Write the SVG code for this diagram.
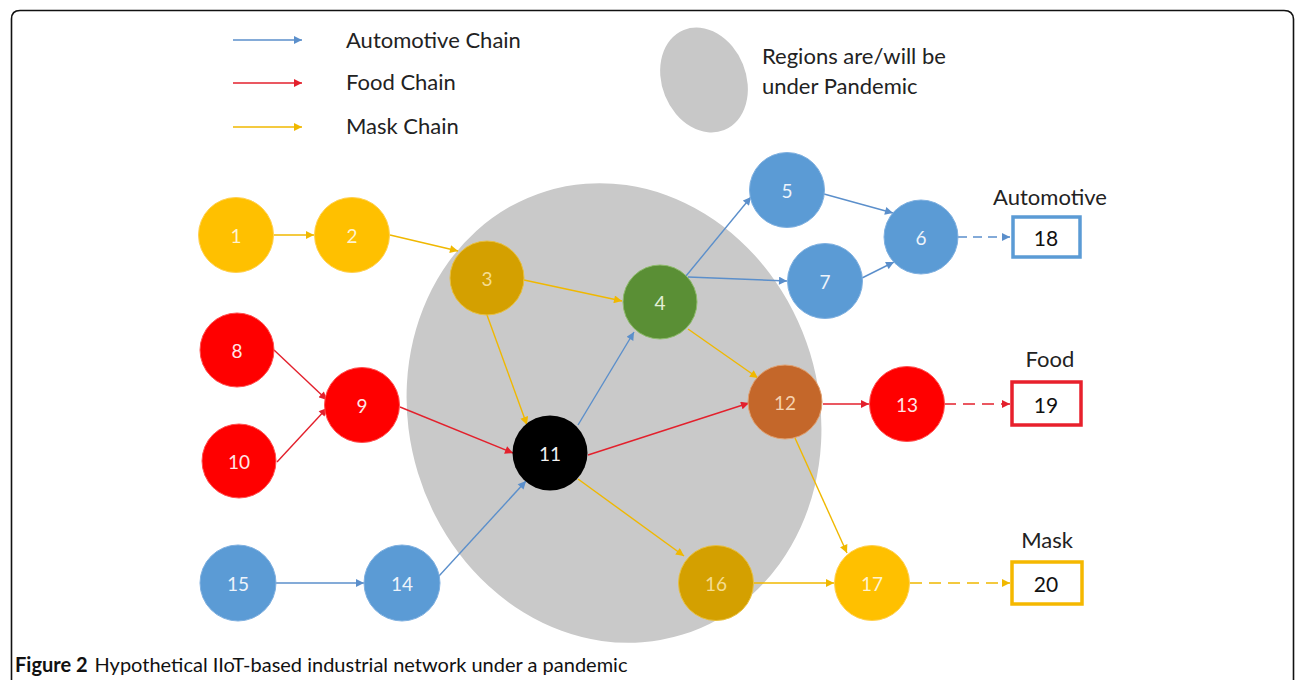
<svg xmlns="http://www.w3.org/2000/svg" width="1295" height="680" viewBox="0 0 1295 680">
<style>
.lbl{font-family:Lato,"Open Sans","Liberation Sans",sans-serif;font-size:22px;fill:#222}
.bn{font-family:Lato,"Open Sans","Liberation Sans",sans-serif;font-size:21px;fill:#111;text-anchor:middle;dominant-baseline:central}
.num{font-family:Lato,"Open Sans","Liberation Sans",sans-serif;font-size:19px;text-anchor:middle;dominant-baseline:central}
.eb{stroke:#5B8FCB;stroke-width:1.4;fill:none}
.er{stroke:#E3202C;stroke-width:1.4;fill:none}
.ey{stroke:#F0B800;stroke-width:1.4;fill:none}
.blue{fill:#5B9BD5;stroke:#7FB0E0;stroke-width:1}
.red{fill:#FF0000;stroke:#FF5050;stroke-width:1}
.yel{fill:#FFC000;stroke:#FFD050;stroke-width:1}
.gold{fill:#D4A000;stroke:#E8C040;stroke-width:1}
.box{fill:#fff;stroke-width:3.5}
</style>
<defs>
<marker id="aB" viewBox="0 0 10 10" refX="10" refY="5" markerWidth="9" markerHeight="8" markerUnits="userSpaceOnUse" orient="auto"><path d="M0,0 L10,5 L0,10 z" fill="#5B8FCB"/></marker>
<marker id="aR" viewBox="0 0 10 10" refX="10" refY="5" markerWidth="9" markerHeight="8" markerUnits="userSpaceOnUse" orient="auto"><path d="M0,0 L10,5 L0,10 z" fill="#E3202C"/></marker>
<marker id="aY" viewBox="0 0 10 10" refX="10" refY="5" markerWidth="9" markerHeight="8" markerUnits="userSpaceOnUse" orient="auto"><path d="M0,0 L10,5 L0,10 z" fill="#F0B800"/></marker>
</defs>
<rect width="1295" height="680" fill="#fff"/>
<path d="M11.5,680 L11.5,19 Q11.5,10.5 20,10.5 L1284,10.5 Q1293,10.5 1293.5,19 L1293.5,680" fill="none" stroke="#111" stroke-width="1.6"/>

<g id="legend">
<line x1="233" y1="40" x2="302" y2="40" class="eb" stroke-width="2.2" marker-end="url(#aB)"/>
<line x1="233" y1="83" x2="302" y2="83" class="er" stroke-width="2.2" marker-end="url(#aR)"/>
<line x1="233" y1="127" x2="302" y2="127" class="ey" stroke-width="2.2" marker-end="url(#aY)"/>
<text class="lbl" x="346" y="48">Automotive Chain</text>
<text class="lbl" x="346" y="90">Food Chain</text>
<text class="lbl" x="346" y="134">Mask Chain</text>
<ellipse cx="704" cy="80" rx="42" ry="54" transform="rotate(-22 704 80)" fill="#C8C8C8"/>
<text class="lbl" x="762" y="64">Regions are/will be</text>
<text class="lbl" x="762" y="94">under Pandemic</text>
</g>

<g id="pandemic-region">
<ellipse cx="614" cy="413" rx="205" ry="232" transform="rotate(-17 614 413)" fill="#C9C9C9"/>
</g>

<g id="connectors">
<line x1="274" y1="235" x2="314" y2="235" class="ey" marker-end="url(#aY)"/>
<line x1="390" y1="235" x2="458" y2="251" class="ey" marker-end="url(#aY)"/>
<line x1="524" y1="280" x2="622" y2="301" class="ey" marker-end="url(#aY)"/>
<line x1="487" y1="315" x2="527" y2="425" class="ey" marker-end="url(#aY)"/>
<line x1="686" y1="276" x2="751" y2="197" class="eb" marker-end="url(#aB)"/>
<line x1="688" y1="277" x2="787" y2="281" class="eb" marker-end="url(#aB)"/>
<line x1="688" y1="329" x2="758" y2="378" class="ey" marker-end="url(#aY)"/>
<line x1="824" y1="194" x2="893" y2="213" class="eb" marker-end="url(#aB)"/>
<line x1="862" y1="278" x2="894" y2="262" class="eb" marker-end="url(#aB)"/>
<line x1="958" y1="237" x2="1010" y2="237" class="eb" stroke-width="2.6" stroke-dasharray="9,6" marker-end="url(#aB)"/>
<line x1="274" y1="350" x2="327" y2="400" class="er" marker-end="url(#aR)"/>
<line x1="277" y1="462" x2="327" y2="408" class="er" marker-end="url(#aR)"/>
<line x1="400" y1="407" x2="513" y2="453" class="er" marker-end="url(#aR)"/>
<line x1="578" y1="425" x2="634" y2="332" class="eb" marker-end="url(#aB)"/>
<line x1="588" y1="455" x2="749" y2="403" class="er" marker-end="url(#aR)"/>
<line x1="578" y1="479" x2="684" y2="556" class="ey" marker-end="url(#aY)"/>
<line x1="439" y1="576" x2="526" y2="481" class="eb" marker-end="url(#aB)"/>
<line x1="276" y1="583" x2="364" y2="583" class="eb" marker-end="url(#aB)"/>
<line x1="823" y1="404" x2="869" y2="404" class="er" marker-end="url(#aR)"/>
<line x1="795" y1="438" x2="847" y2="553" class="ey" marker-end="url(#aY)"/>
<line x1="944" y1="404" x2="1010" y2="404" class="er" stroke-width="2.6" stroke-dasharray="12,7" marker-end="url(#aR)"/>
<line x1="753" y1="583" x2="834" y2="583" class="ey" marker-end="url(#aY)"/>
<line x1="910" y1="583" x2="1010" y2="583" class="ey" stroke-width="2.6" stroke-dasharray="12,7" marker-end="url(#aY)"/>
</g>

<g id="n1"><circle cx="236" cy="235" r="37.5" class="yel"/><text class="num" x="236" y="235" fill="#FFF3D0">1</text></g>
<g id="n2"><circle cx="352" cy="235" r="37.5" class="yel"/><text class="num" x="352" y="235" fill="#FFF3D0">2</text></g>
<g id="n3"><circle cx="487" cy="278" r="37" class="gold"/><text class="num" x="487" y="278" fill="#F5DC90">3</text></g>
<g id="n4"><circle cx="660" cy="302" r="37" fill="#5A8F35" stroke="#8DBA6A" stroke-width="1"/><text class="num" x="660" y="302" fill="#E4EFD8">4</text></g>
<g id="n5"><circle cx="787" cy="190" r="37.5" class="blue"/><text class="num" x="787" y="190" fill="#EEF4FB">5</text></g>
<g id="n6"><circle cx="921" cy="237" r="37" class="blue"/><text class="num" x="921" y="237" fill="#EEF4FB">6</text></g>
<g id="n7"><circle cx="825" cy="281" r="37.5" class="blue"/><text class="num" x="825" y="281" fill="#EEF4FB">7</text></g>
<g id="n8"><circle cx="237" cy="350" r="37" class="red"/><text class="num" x="237" y="350" fill="#FFE6E6">8</text></g>
<g id="n9"><circle cx="362" cy="405" r="37.5" class="red"/><text class="num" x="362" y="405" fill="#FFE6E6">9</text></g>
<g id="n10"><circle cx="239" cy="461" r="37" class="red"/><text class="num" x="239" y="461" fill="#FFE6E6">10</text></g>
<g id="n11"><circle cx="550" cy="453" r="37.5" fill="#000"/><text class="num" x="550" y="453" fill="#F2F2F2">11</text></g>
<g id="n12"><circle cx="785" cy="402" r="37" fill="#C4672A" stroke="#E0A070" stroke-width="1"/><text class="num" x="785" y="402" fill="#F5D2B0">12</text></g>
<g id="n13"><circle cx="907" cy="404" r="37.5" class="red"/><text class="num" x="907" y="404" fill="#FFE6E6">13</text></g>
<g id="n14"><circle cx="402" cy="583" r="38" class="blue"/><text class="num" x="402" y="583" fill="#EEF4FB">14</text></g>
<g id="n15"><circle cx="238" cy="583" r="38" class="blue"/><text class="num" x="238" y="583" fill="#EEF4FB">15</text></g>
<g id="n16"><circle cx="716" cy="583" r="37.5" class="gold"/><text class="num" x="716" y="583" fill="#F5DC90">16</text></g>
<g id="n17"><circle cx="872" cy="583" r="37.5" class="yel"/><text class="num" x="872" y="583" fill="#FFF3D0">17</text></g>

<g id="n18"><text class="lbl" x="1050" y="205" text-anchor="middle">Automotive</text><rect x="1013" y="217" width="67" height="40" class="box" stroke="#5B9BD5"/><text class="bn" x="1046" y="237">18</text></g>
<g id="n19"><text class="lbl" x="1050" y="367" text-anchor="middle">Food</text><rect x="1012" y="382" width="69" height="43" class="box" stroke="#E8202C"/><text class="bn" x="1046" y="404">19</text></g>
<g id="n20"><text class="lbl" x="1047" y="548" text-anchor="middle">Mask</text><rect x="1012" y="562" width="70" height="42" class="box" stroke="#F5B800"/><text class="bn" x="1046" y="583">20</text></g>

<g id="caption">
<text x="15" y="672" font-family="Lato,'Open Sans','Liberation Sans',sans-serif" font-size="20" fill="#111"><tspan font-weight="bold">Figure 2</tspan><tspan dx="7">Hypothetical IIoT-based industrial network under a pandemic</tspan></text>
</g>
</svg>
